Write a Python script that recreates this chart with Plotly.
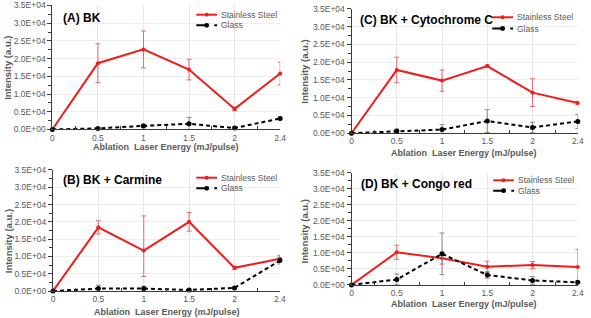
import plotly.graph_objects as go

W, H = 591, 318

x_labels = ["0", "0.5", "1", "1.5", "2", "2.4"]

A_ss = [0, 18700, 22600, 16900, 5800, 15800]
A_ss_err = [0, 5500, 5200, 2900, 500, 3200]
A_gl = [0, 300, 1000, 1600, 400, 3100]
A_gl_err = [0, 200, 500, 1800, 300, 400]

B_ss = [0, 18400, 11700, 20000, 6700, 9300]
B_ss_err_plus = [0, 1900, 10000, 2700, 500, 1000]
B_ss_err_minus = [0, 1900, 7500, 2700, 500, 1000]
B_gl = [0, 700, 700, 300, 900, 8800]
B_gl_err = [0, 1000, 700, 300, 300, 1000]

C_ss = [0, 17800, 14800, 18900, 11400, 8500]
C_ss_err = [0, 3600, 3000, 300, 3900, 500]
C_gl = [0, 600, 1000, 3400, 1600, 3300]
C_gl_err = [0, 500, 1400, 3200, 1500, 2000]

D_ss = [0, 10200, 8300, 5700, 6200, 5600]
D_ss_err = [0, 2200, 1800, 1700, 1100, 5500]
D_gl = [0, 1700, 9700, 3100, 1400, 800]
D_gl_err = [0, 1700, 6500, 1000, 1200, 500]

y_tickvals = [0, 5000, 10000, 15000, 20000, 25000, 30000, 35000]
y_ticktext = ["0.0E+00", "0.5E+04", "1.0E+04", "1.5E+04", "2.0E+04", "2.5E+04", "3.0E+04", "3.5E+04"]

titles = ["(A) BK", "(B) BK + Carmine", "(C) BK + Cytochrome C", "(D) BK + Congo red"]
series_names = ["Stainless Steel", "Glass"]

RED = "#ee1c1c"
GRAY = "#595959"
FONT = "Liberation Sans, Arial, sans-serif"

# panel pixel boxes: (left, right, top, bottom)
boxes = [
    (51, 282, 0.5, 128.5),      # A
    (51.7, 281.7, 170.3, 295.3),  # B
    (354.3, 583.7, 4, 132.3),   # C
    (354.3, 583.7, 173.3, 289),  # D
]
title_pos = [(60, 13), (60, 181), (360.7, 15), (362.3, 185)]
legend_pos = [(197, 10, 21), (197, 178.3, 189.3), (497, 12.7, 24.3), (498, 181, 191.7)]
ytitle_pos = [(6, 65), (6, 244), (307, 69), (307, 234)]
xtitle_pos = [(166, 147), (167.5, 316.5), (468, 153), (468, 309)]

panels = [
    (A_ss, A_ss_err, A_ss_err, A_gl, A_gl_err),
    (B_ss, B_ss_err_plus, B_ss_err_minus, B_gl, B_gl_err),
    (C_ss, C_ss_err, C_ss_err, C_gl, C_gl_err),
    (D_ss, D_ss_err, D_ss_err, D_gl, D_gl_err),
]

xidx = list(range(len(x_labels)))

def px(x):
    return x / W

def py(y):
    return 1 - y / H

fig = go.Figure()
annotations = []
shapes = []
layout = {}

for i, (ss, ssp, ssm, gl, gle) in enumerate(panels):
    n = "" if i == 0 else str(i + 1)
    xa, ya = "x" + n, "y" + n
    fig.add_trace(go.Scatter(
        x=xidx, y=ss, xaxis=xa, yaxis=ya, mode="lines+markers",
        line=dict(color=RED, width=2), marker=dict(color=RED, size=4),
        error_y=dict(type="data", array=ssp, arrayminus=ssm, symmetric=False,
                     color="#e86a6a", thickness=1, width=2.5),
        cliponaxis=False, showlegend=False, name=series_names[0]))
    fig.add_trace(go.Scatter(
        x=xidx, y=gl, xaxis=xa, yaxis=ya, mode="lines+markers",
        line=dict(color="black", width=2, dash="4px,3px"), marker=dict(color="black", size=5),
        error_y=dict(type="data", array=gle, color="#8a8a8a", thickness=1, width=2.5),
        cliponaxis=False, showlegend=False, name=series_names[1]))
    l, r, t, b = boxes[i]
    layout["xaxis" + n] = dict(
        domain=[px(l), px(r)], anchor=ya, range=[0, 5],
        tickvals=xidx, ticktext=x_labels, ticks="",
        showgrid=True, gridcolor="#e6e6e6", gridwidth=1,
        showline=True, linecolor="#3a3a3a", linewidth=1,
        tickfont=dict(family=FONT, size=8.5, color=GRAY),
        minor=dict(tickvals=[0.5, 1.5, 2.5, 3.5, 4.5], ticks="inside", ticklen=3,
                   tickcolor="#3a3a3a", showgrid=False),
        zeroline=False, fixedrange=True)
    layout["yaxis" + n] = dict(
        domain=[py(b), py(t)], anchor=xa, range=[0, 35000],
        tickvals=y_tickvals, ticktext=y_ticktext, ticks="outside", ticklen=4,
        tickcolor="#3a3a3a",
        showgrid=True, gridcolor="#eeeeee", gridwidth=1,
        showline=True, linecolor="#3a3a3a", linewidth=1,
        tickfont=dict(family=FONT, size=8.5, color=GRAY),
        minor=dict(dtick=2500, tick0=0, ticks="outside", ticklen=3, tickcolor="#3a3a3a", showgrid=False),
        zeroline=False, fixedrange=True)
    # panel title
    tx, ty = title_pos[i]
    annotations.append(dict(x=px(tx), y=py(ty), xref="paper", yref="paper", xanchor="left",
                            yanchor="middle", showarrow=False, text="<b>" + titles[i] + "</b>",
                            font=dict(family=FONT, size=12, color="black")))
    # axis titles
    yx, yy = ytitle_pos[i]
    annotations.append(dict(x=px(yx), y=py(yy), xref="paper", yref="paper", xanchor="center",
                            yanchor="middle", showarrow=False, textangle=-90,
                            text="<b>Intensity (a.u.)</b>",
                            font=dict(family=FONT, size=9.5, color=GRAY)))
    xx, xy = xtitle_pos[i]
    annotations.append(dict(x=px(xx), y=py(xy), xref="paper", yref="paper", xanchor="center",
                            yanchor="middle", showarrow=False,
                            text="<b>Ablation  Laser Energy (mJ/pulse)</b>",
                            font=dict(family=FONT, size=9, color=GRAY)))
    # legend (drawn manually)
    lx, ly1, ly2 = legend_pos[i]
    for name, yy_, col, dash, msz in [(series_names[0], ly1, RED, "solid", 2),
                                      (series_names[1], ly2, "black", "dash", 2.5)]:
        shapes.append(dict(type="line", xref="paper", yref="paper",
                           x0=px(lx), x1=px(lx + 21), y0=py(yy_), y1=py(yy_),
                           line=dict(color=col, width=2, dash=dash)))
        cx = lx + 10.5
        shapes.append(dict(type="circle", xref="paper", yref="paper",
                           x0=px(cx - msz), x1=px(cx + msz), y0=py(yy_ + msz), y1=py(yy_ - msz),
                           fillcolor=col, line=dict(color=col, width=0)))
        annotations.append(dict(x=px(lx + 23), y=py(yy_), xref="paper", yref="paper",
                                xanchor="left", yanchor="middle", showarrow=False, text=name,
                                font=dict(family=FONT, size=8.5, color=GRAY)))

fig.update_layout(
    width=W, height=H, margin=dict(l=0, r=0, t=0, b=0),
    paper_bgcolor="white", plot_bgcolor="white",
    annotations=annotations, shapes=shapes, showlegend=False, **layout)

fig.write_html("out.html")
